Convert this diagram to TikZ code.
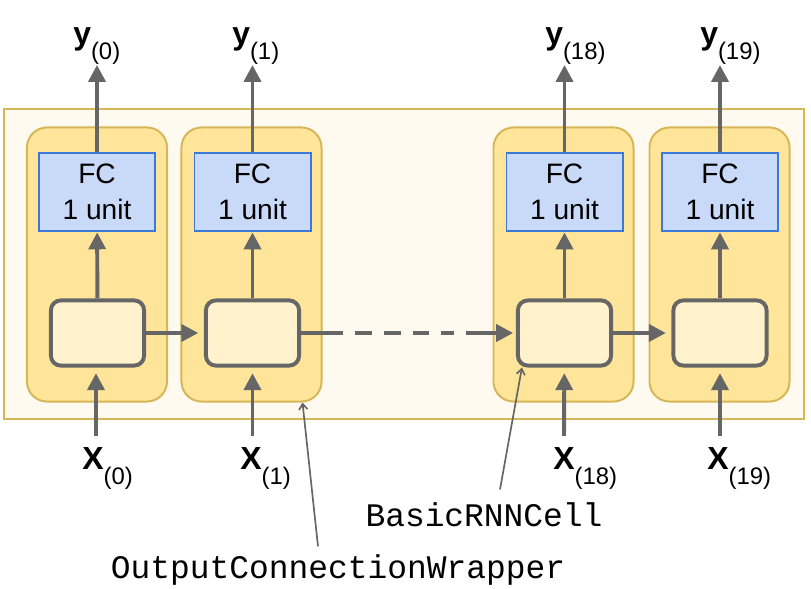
\documentclass[tikz,border=0pt]{standalone}
\usepackage{fontspec}
\setmainfont{Liberation Sans}
\setmonofont{Liberation Mono}
\usetikzlibrary{arrows.meta,positioning}

\definecolor{goldline}{HTML}{D6B656}
\definecolor{creamfill}{HTML}{FFFAF0}
\definecolor{wrapfill}{HTML}{FFE599}
\definecolor{cellfill}{HTML}{FFF2CC}
\definecolor{fcfill}{HTML}{C9DAF8}
\definecolor{fcline}{HTML}{3C78D8}
\definecolor{flowgray}{HTML}{666666}

\newcommand{\seqlabel}[2]{{\fontsize{22.7}{24}\selectfont\bfseries #1}\raisebox{-10.6pt}{\fontsize{17}{18}\selectfont(#2)}}

\tikzset{
  wrapper/.style={draw=goldline, fill=wrapfill, line width=1.4pt, rounded corners=0.5cm,
    minimum width=3.5cm, minimum height=6.85cm, inner sep=0},
  fcbox/.style={draw=fcline, fill=fcfill, line width=1.4pt, minimum width=2.9cm,
    minimum height=1.97cm, inner sep=0, align=center, font=\fontsize{20}{26}\selectfont},
  rnncell/.style={draw=flowgray, fill=cellfill, line width=2.8pt, rounded corners=0.25cm,
    minimum width=2.33cm, minimum height=1.63cm, inner sep=0},
  flow/.style={draw=flowgray, line width=2.8pt, -{Triangle[length=12pt,width=12pt,fill=flowgray]}},
  seqtext/.style={inner sep=0},
  notetext/.style={inner sep=0, font=\ttfamily\fontsize{23.4}{26}\selectfont},
  leader/.style={draw=flowgray, line width=1.2pt, -{Straight Barb[length=4pt,width=6pt]}}
}

\begin{document}
\begin{tikzpicture}[x=0.025cm,y=-0.025cm]
  \useasboundingbox (0,0) rectangle (811,589);

  % outer box
  \draw[draw=goldline, fill=creamfill, line width=1.4pt] (4,109) rectangle (804,419);

  % wrappers
  \node[wrapper] (wrap0) at (97,264.5) {};
  \node[wrapper] (wrap1) at (251.5,264.5) {};
  \node[wrapper] (wrap18) at (563.5,264.5) {};
  \node[wrapper] (wrap19) at (719.5,264.5) {};

  % dense layers
  \node[fcbox] (fc0) at (97,192) {FC\\1 unit};
  \node[fcbox] (fc1) at (252.5,192) {FC\\1 unit};
  \node[fcbox] (fc18) at (564.5,192) {FC\\1 unit};
  \node[fcbox] (fc19) at (720,192) {FC\\1 unit};

  % cells
  \node[rnncell] (rnn0) at (97.5,333) {};
  \node[rnncell] (rnn1) at (252.5,333) {};
  \node[rnncell] (rnn18) at (564.5,333) {};
  \node[rnncell] (rnn19) at (720,333) {};

  % outputs
  \node[seqtext, anchor=south west] (y0) at (73,65) {\seqlabel{y}{0}};
  \node[seqtext, anchor=south west] (y1) at (232,65) {\seqlabel{y}{1}};
  \node[seqtext, anchor=south west] (y18) at (545,65) {\seqlabel{y}{18}};
  \node[seqtext, anchor=south west] (y19) at (700,65) {\seqlabel{y}{19}};

  % inputs
  \node[seqtext, anchor=north west] (x0) at (82,447) {\seqlabel{X}{0}};
  \node[seqtext, anchor=north west] (x1) at (240,447) {\seqlabel{X}{1}};
  \node[seqtext, anchor=north west] (x18) at (553,447) {\seqlabel{X}{18}};
  \node[seqtext, anchor=north west] (x19) at (707,447) {\seqlabel{X}{19}};
  \coordinate (in0) at (96,436);
  \coordinate (in1) at (252.5,436);
  \coordinate (in18) at (564,436);
  \coordinate (in19) at (720,436);

  \draw[flow, shorten >=4pt] (in0) -- (rnn0.south -| in0);
  \draw[flow, shorten >=4pt] (in1) -- (rnn1);
  \draw[flow, shorten >=4pt] (in18) -- (rnn18);
  \draw[flow, shorten >=4pt] (in19) -- (rnn19);

  \draw[flow] (rnn0) -- (fc0);
  \draw[flow] (rnn1) -- (fc1);
  \draw[flow] (rnn18) -- (fc18);
  \draw[flow] (rnn19) -- (fc19);

  \draw[flow] (fc0.north) -- (fc0.north |- y0.south);
  \draw[flow] (fc1.north) -- (fc1.north |- y1.south);
  \draw[flow] (fc18.north) -- (fc18.north |- y18.south);
  \draw[flow] (fc19.north) -- (fc19.north |- y19.south);

  \draw[flow, shorten >=4pt] (rnn0) -- (rnn1);
  \draw[flow, shorten >=2pt, dash pattern=on 29.8pt off 8.5pt on 12pt off 8.5pt on 12pt off 8.5pt
    on 12pt off 8.5pt on 9.2pt off 8.5pt on 60pt] (rnn1) -- (rnn18);
  \draw[flow, shorten >=4pt] (rnn18) -- (rnn19);

  % class names
  \node[notetext] (cellnote) at (484,515) {BasicRNNCell};
  \node[notetext] (wrapnote) at (338,570) {OutputConnectionWrapper};
  \draw[leader] ([xshift=0.4cm,yshift=0.33cm]cellnote.north) -- ([xshift=0.15cm]rnn18.south west);
  \draw[leader] ([xshift=-0.5cm,yshift=0.2cm]wrapnote.north) -- ([xshift=-0.5cm]wrap1.south east);
\end{tikzpicture}
\end{document}
